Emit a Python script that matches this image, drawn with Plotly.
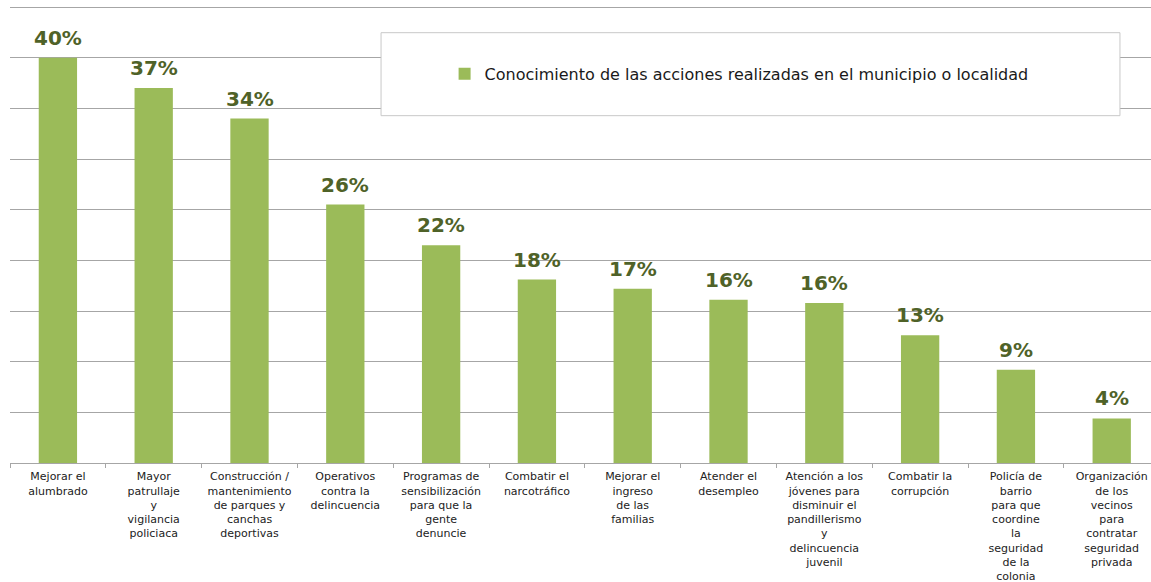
import plotly.graph_objects as go

categories = [
    "Mejorar el alumbrado",
    "Mayor patrullaje y vigilancia policiaca",
    "Construcción / mantenimiento de parques y canchas deportivas",
    "Operativos contra la delincuencia",
    "Programas de sensibilización para que la gente denuncie",
    "Combatir el narcotráfico",
    "Mejorar el ingreso de las familias",
    "Atender el desempleo",
    "Atención a los jóvenes para disminuir el pandillerismo y delincuencia juvenil",
    "Combatir la corrupción",
    "Policía de barrio para que coordine la seguridad de la colonia",
    "Organización de los vecinos para contratar seguridad privada",
]
tick_labels = [
    "Mejorar el<br>alumbrado",
    "Mayor<br>patrullaje<br>y<br>vigilancia<br>policiaca",
    "Construcción /<br>mantenimiento<br>de parques y<br>canchas<br>deportivas",
    "Operativos<br>contra la<br>delincuencia",
    "Programas de<br>sensibilización<br>para que la<br>gente<br>denuncie",
    "Combatir el<br>narcotráfico",
    "Mejorar el<br>ingreso<br>de las<br>familias",
    "Atender el<br>desempleo",
    "Atención a los<br>jóvenes para<br>disminuir el<br>pandillerismo<br>y<br>delincuencia<br>juvenil",
    "Combatir la<br>corrupción",
    "Policía de<br>barrio<br>para que<br>coordine<br>la<br>seguridad<br>de la<br>colonia",
    "Organización<br>de los<br>vecinos<br>para<br>contratar<br>seguridad<br>privada",
]
values = [40.0, 37.0, 34.0, 25.5, 21.5, 18.1, 17.2, 16.1, 15.8, 12.6, 9.2, 4.4]
value_labels = ["40%", "37%", "34%", "26%", "22%", "18%", "17%", "16%", "16%", "13%", "9%", "4%"]
series_name = "Conocimiento de las acciones realizadas en el municipio o localidad"

BAR = "#9BBB59"
LABEL = "#4F6228"
GRID = "#A6A6A6"
FONT = "DejaVu Sans"

fig = go.Figure()
fig.add_trace(go.Bar(
    x=categories, y=values, name=series_name,
    marker=dict(color=BAR, line=dict(width=0)),
    width=0.4, showlegend=True,
))

for c, v, t in zip(categories, values, value_labels):
    fig.add_annotation(
        x=c, y=v, text=t, showarrow=False, yanchor="bottom", yshift=6,
        font=dict(family=FONT, size=20, color=LABEL, weight="bold"),
    )

# legend box (paper coords for plot area x 10..1151, y 4..463)
fig.add_shape(
    type="rect", xref="paper", yref="paper",
    x0=0.3252, x1=0.9728, y0=0.7567, y1=0.9375,
    fillcolor="white", line=dict(color="#C8C8C8", width=1), layer="above",
)

fig.update_layout(
    width=1151, height=582,
    margin=dict(l=10, r=0, t=4, b=119, autoexpand=False),
    paper_bgcolor="white", plot_bgcolor="white",
    font=dict(family=FONT, color="#222222"),
    showlegend=True,
    legend=dict(
        x=0.639, y=0.848, xanchor="center", yanchor="middle",
        orientation="h", bgcolor="rgba(0,0,0,0)", borderwidth=0,
        font=dict(family=FONT, size=16, color="#1a1a1a"),
        itemwidth=30,
    ),
    xaxis=dict(
        type="category", range=[-0.5, 11.41], automargin=False,
        tickmode="array", tickvals=categories, ticktext=tick_labels,
        tickfont=dict(family=FONT, size=11, color="#222222"),
        ticklabelstandoff=3,
        tickson="boundaries", ticks="outside", ticklen=4, tickcolor=GRID,
        showline=True, linecolor=GRID, linewidth=1,
        showgrid=False, tickangle=0,
    ),
    yaxis=dict(
        range=[0, 45.3], dtick=5, showticklabels=False, automargin=False,
        showgrid=True, gridcolor=GRID, gridwidth=1,
        zeroline=False, showline=False, ticks="",
    ),
)

fig.write_html(
    "out.html",
    config={"displayModeBar": False},
    post_script="document.body.style.margin='0';document.body.style.overflow='hidden';",
)
